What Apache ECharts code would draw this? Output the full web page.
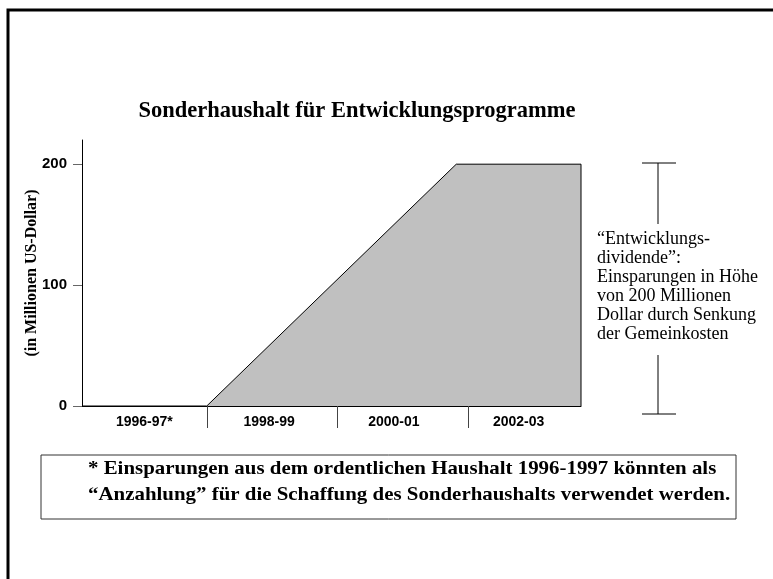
<!DOCTYPE html>
<html>
<head>
<meta charset="utf-8">
<script src="https://cdn.jsdelivr.net/npm/echarts@6/dist/echarts.min.js"></script>
<style>
  html, body { margin: 0; padding: 0; background: #fff; }
  #chart { width: 773px; height: 579px; }
</style>
</head>
<body>
<div id="chart"></div>
<script>
// Haushaltsjahre und Werte (in Mio. US-Dollar)
var periods = ['1996-97*', '1998-99', '2000-01', '2002-03'];
var periodCenters = [1997, 1999, 2001, 2003];
var periodBounds = [1998, 2000.1, 2002.2];
var budgetPoints = [[1996, 0], [1998, 0], [2002, 200], [2004, 200], [2004, 0]];
var yTicks = [0, 100, 200];

var noteLines = ['\u201cEntwicklungs-', 'dividende\u201d:', 'Einsparungen in H\u00f6he',
    'von 200 Millionen', 'Dollar durch Senkung', 'der Gemeinkosten'];
var footLines = ['* Einsparungen aus dem ordentlichen Haushalt 1996-1997 k\u00f6nnten als',
    '\u201cAnzahlung\u201d f\u00fcr die Schaffung des Sonderhaushalts verwendet werden.'];

var serif = '"Liberation Serif", "Times New Roman", serif';
var sans = '"Liberation Sans", Arial, sans-serif';

var chart = echarts.init(document.getElementById('chart'));

chart.setOption({
    animation: false,
    grid: { left: 82, right: 192, top: 140, bottom: 173 },
    xAxis: {
        type: 'value',
        min: 1996,
        max: 2004,
        axisLine: { lineStyle: { color: '#000', width: 1 } },
        axisTick: {
            customValues: periodBounds,
            length: 22,
            lineStyle: { color: '#444' }
        },
        axisLabel: {
            customValues: periodCenters,
            margin: 9,
            fontFamily: sans,
            fontWeight: 'bold',
            fontSize: 14,
            color: '#000',
            formatter: function (v) {
                return periods[periodCenters.indexOf(Math.round(v))] || '';
            }
        },
        splitLine: { show: false }
    },
    yAxis: {
        type: 'value',
        min: 0,
        max: 220,
        name: '(in Millionen US-Dollar)',
        nameLocation: 'middle',
        nameRotate: 90,
        nameGap: 42,
        nameMoveOverlap: false,
        nameTextStyle: { fontFamily: serif, fontWeight: 'bold', fontSize: 16, color: '#000' },
        axisLine: { show: true, lineStyle: { color: '#000', width: 1 } },
        axisTick: {
            show: true,
            customValues: yTicks,
            length: 9,
            lineStyle: { color: '#666' }
        },
        axisLabel: {
            customValues: yTicks,
            margin: 15,
            fontFamily: sans,
            fontWeight: 'bold',
            fontSize: 15,
            color: '#000'
        },
        splitLine: { show: false }
    },
    series: [{
        type: 'line',
        data: budgetPoints,
        symbol: 'none',
        lineStyle: { color: '#000', width: 1 },
        areaStyle: { color: '#c0c0c0', opacity: 1 },
        z: 1
    }],
    graphic: [
        // Rahmen
        { type: 'rect', shape: { x: 8, y: 10, width: 800, height: 620 },
          style: { fill: null, stroke: '#000', lineWidth: 3 } },
        // Titel
        { type: 'text', x: 357, y: 111,
          style: { text: 'Sonderhaushalt f\u00fcr Entwicklungsprogramme', font: 'bold 22.5px ' + serif,
                   fill: '#000', align: 'center', verticalAlign: 'middle' } },
        // Klammer rechts
        { type: 'line', shape: { x1: 642, y1: 163, x2: 676, y2: 163 }, style: { stroke: '#000', lineWidth: 1 } },
        { type: 'line', shape: { x1: 658, y1: 163, x2: 658, y2: 224 }, style: { stroke: '#000', lineWidth: 1 } },
        { type: 'line', shape: { x1: 658, y1: 355, x2: 658, y2: 414 }, style: { stroke: '#000', lineWidth: 1 } },
        { type: 'line', shape: { x1: 642, y1: 414, x2: 676, y2: 414 }, style: { stroke: '#000', lineWidth: 1 } },
        { type: 'text', x: 597, y: 230,
          style: { text: noteLines.join('\n'), font: '18px ' + serif, lineHeight: 19,
                   fill: '#000', align: 'left', verticalAlign: 'top' } },
        // Fussnote
        { type: 'rect', shape: { x: 41, y: 455, width: 695, height: 64 },
          style: { fill: null, stroke: '#333', lineWidth: 1 } },
        { type: 'text', x: 88, y: 456, scaleX: 1.1,
          style: { text: footLines.join('\n'), font: 'bold 19px ' + serif, lineHeight: 26,
                   fill: '#000', align: 'left', verticalAlign: 'top' } }
    ]
});
</script>
</body>
</html>
